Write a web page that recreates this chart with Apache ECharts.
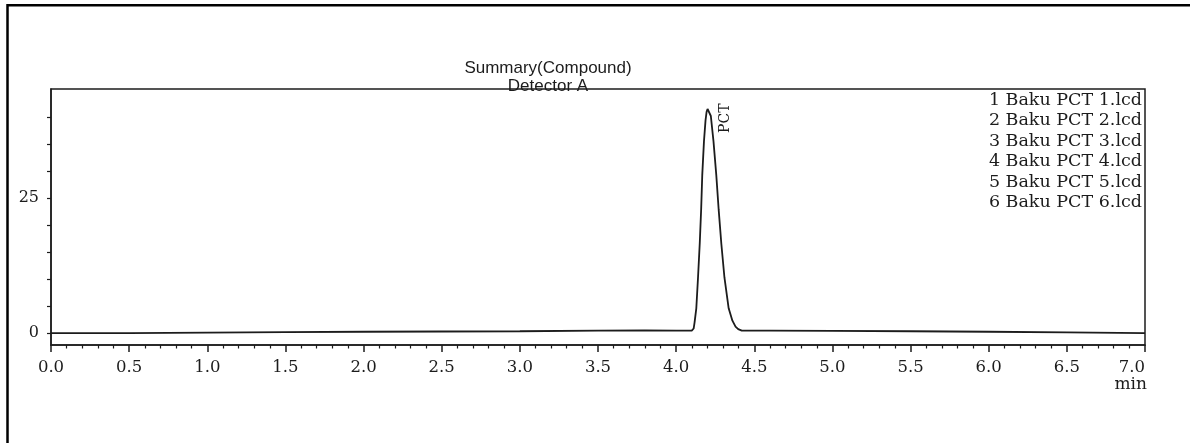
<!DOCTYPE html>
<html>
<head>
<meta charset="utf-8">
<script src="https://cdn.jsdelivr.net/npm/echarts@6/dist/echarts.min.js"></script>
<style>
  html, body { margin: 0; padding: 0; background: #fff; }
  #main { width: 1190px; height: 443px; }
</style>
</head>
<body>
<div id="main"></div>
<script>
// retention time (min) and detector response
const times = [0.0, 0.5, 1.0, 1.5, 2.0, 2.5, 3.0, 3.5, 3.8, 4.0, 4.1, 4.106,
  4.112, 4.118, 4.129, 4.14, 4.151, 4.16, 4.167, 4.178, 4.188, 4.195, 4.201, 4.206,
  4.212, 4.222, 4.239, 4.257, 4.272, 4.289, 4.309, 4.336, 4.36, 4.38, 4.397, 4.42,
  4.6, 5.0, 5.5, 6.0, 6.5, 7.0];
const signal = [0.0, 0.0, 0.1, 0.2, 0.25, 0.3, 0.35, 0.45, 0.5, 0.45, 0.45, 0.55,
  0.85, 2.0, 4.6, 10.3, 16.6, 22.9, 29.2, 35.5, 39.4, 41.0, 41.5, 41.5,
  41.3, 40.2, 35.5, 29.2, 22.9, 16.6, 10.3, 4.6, 2.3, 1.2, 0.75, 0.45,
  0.45, 0.4, 0.35, 0.25, 0.15, 0.0];
const yTicks = [0, 5, 10, 15, 20, 25, 30, 35, 40];
const yLabels = [0, 25];
const files = ['1 Baku PCT 1.lcd', '2 Baku PCT 2.lcd', '3 Baku PCT 3.lcd',
  '4 Baku PCT 4.lcd', '5 Baku PCT 5.lcd', '6 Baku PCT 6.lcd'];
const peakName = 'PCT';
const timeUnit = 'min';

const ink = '#1c1c1c';
const serif = 'DejaVu Serif';

const chart = echarts.init(document.getElementById('main'));
const points = times.map((t, i) => [t, signal[i]]);

chart.setOption({
  animation: false,
  backgroundColor: '#fff',
  title: {
    text: 'Summary(Compound)\nDetector A',
    left: 543,
    top: 54,
    textAlign: 'center',
    textStyle: {
      fontFamily: 'Liberation Sans',
      fontSize: 17,
      fontWeight: 'normal',
      color: ink,
      lineHeight: 18,
    },
  },
  grid: {
    left: 51,
    right: 45,
    top: 89,
    bottom: 98,
    show: true,
    borderColor: ink,
    borderWidth: 1.5,
  },
  xAxis: {
    type: 'value',
    min: 0,
    max: 7,
    interval: 0.5,
    axisLine: { onZero: false, lineStyle: { color: ink, width: 1.5 } },
    axisTick: { length: 7, lineStyle: { color: ink, width: 1.5 } },
    minorTick: { show: true, splitNumber: 5, length: 3.5, lineStyle: { color: ink, width: 1.2 } },
    splitLine: { show: false },
    axisLabel: {
      fontFamily: serif,
      fontSize: 16.5,
      color: ink,
      margin: 14,
      alignMaxLabel: 'right',
      formatter: (v) => v.toFixed(1),
    },
  },
  yAxis: {
    type: 'value',
    min: -2.2,
    max: 45.2,
    axisLine: { show: true, lineStyle: { color: ink, width: 1.5 } },
    axisTick: { show: true, customValues: yTicks, length: 4, lineStyle: { color: ink, width: 1.2 } },
    splitLine: { show: false },
    axisLabel: {
      customValues: yLabels,
      fontFamily: serif,
      fontSize: 16,
      color: ink,
      margin: 12,
    },
  },
  series: [
    {
      name: peakName,
      type: 'line',
      data: points,
      showSymbol: false,
      smooth: false,
      lineStyle: { color: ink, width: 1.8 },
    },
  ],
});

// peak label, unit and file list, placed through the chart's own scales
const apexIdx = signal.indexOf(Math.max(...signal));
const apex = chart.convertToPixel({ gridIndex: 0 }, [times[apexIdx], signal[apexIdx]]);
const axisEnd = chart.convertToPixel({ gridIndex: 0 }, [times[times.length - 1], -2.2]);

chart.setOption({
  graphic: [
    {
      type: 'rect',
      shape: { x: 7.5, y: 5.3, width: 1300, height: 600 },
      style: { fill: 'none', stroke: '#000', lineWidth: 2.5 },
      silent: true,
    },
    {
      type: 'text',
      x: apex[0] + 18,
      y: apex[1] + 24,
      rotation: Math.PI / 2,
      style: {
        text: peakName,
        font: '14px "DejaVu Serif"',
        fill: ink,
        align: 'left',
        verticalAlign: 'middle',
      },
    },
    {
      type: 'text',
      x: axisEnd[0] + 2,
      y: axisEnd[1] + 40,
      style: {
        text: timeUnit,
        font: '17px "DejaVu Serif"',
        fill: ink,
        align: 'right',
        verticalAlign: 'middle',
      },
    },
    {
      type: 'text',
      right: 48,
      top: 90,
      style: {
        text: files.join('\n'),
        font: '17.5px "DejaVu Serif"',
        lineHeight: 20.5,
        fill: ink,
        align: 'right',
      },
    },
  ],
});
</script>
</body>
</html>
